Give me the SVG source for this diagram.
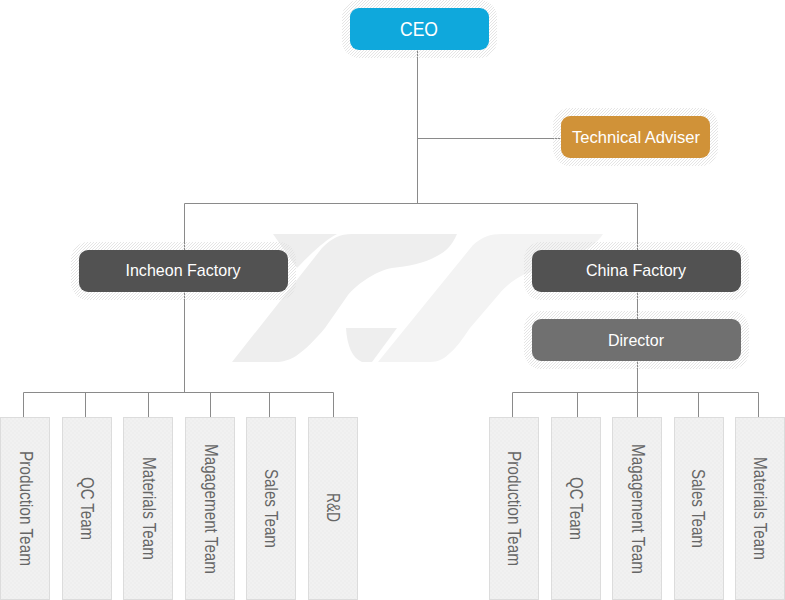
<svg xmlns="http://www.w3.org/2000/svg" width="785" height="600" viewBox="0 0 785 600">
<style>
.halo{fill:url(#hatch)}
.t{font-family:"Liberation Sans",Arial,sans-serif;font-size:17px;fill:#fff;text-anchor:middle}
.v{font-family:"Liberation Sans",Arial,sans-serif;font-size:17.5px;fill:#666}
.team{fill:url(#dots);stroke:#dcdcdc;stroke-width:1}
.c{fill:none;stroke:#8a8a8a;stroke-width:1}
.l1{fill:#eeeeee}.l2{fill:#f3f3f3}
</style>
<defs>
<pattern id="hatch" width="3" height="3" patternUnits="userSpaceOnUse">
<path d="M0 3L3 0M-1 1L1 -1M2 4L4 2" stroke="#dedede" stroke-width="0.8" fill="none"/>
</pattern>
<pattern id="dots" width="4" height="4" patternUnits="userSpaceOnUse">
<rect width="4" height="4" fill="#f1f1f1"/>
<rect width="2" height="2" fill="#eeeeee"/>
<rect x="2" y="2" width="2" height="2" fill="#eeeeee"/>
</pattern>
</defs>
<g id="logo">
<path class="l1" d="M273 234H337C326 240 314 250 297 268Z"/>
<path class="l1" d="M232 362L322 248C332 238 340 234 352 234H457C452 245 447 251 437 256C423 264 408 266 392 268C378 270 358 283 348 295L325 328C315 340 305 350 296 356C289 360 283 362 275 362Z"/>
<path class="l1" d="M346 328H397L372 362H362C352 358 347 345 346 328Z"/>
<path class="l2" d="M378 362L473 245C482 237 490 234 502 234H603C592 252 560 262 523 275C513 280 505 287 500 293L470 328C462 340 456 348 450 353C444 359 438 362 430 362Z"/>
</g>
<g id="connectors">
<path class="c" d="M417.500 50V203.500M417.500 138.500H561M184.500 203.500H637.500M184.500 203.500V392.500M637.500 203.500V417M23.500 392.500H333.500M23.500 392.500V417M85.500 392.500V417M148.500 392.500V417M210.500 392.500V417M269.500 392.500V417M333.500 392.500V417M512.500 392.500H758.500M512.500 392.500V417M577.500 392.500V417M698.500 392.500V417M758.500 392.500V417"/>
</g>
<g id="ceo"><rect class="halo" x="342" y="0" width="155" height="58" rx="17"/><rect x="350" y="8" width="139" height="42" rx="9" fill="#0fa8dc"/><text class="t" x="419" y="36" textLength="38" lengthAdjust="spacingAndGlyphs" style="font-size:21px">CEO</text></g>
<g id="adviser"><rect class="halo" x="553" y="108" width="165" height="58" rx="17"/><rect x="561" y="116" width="149" height="42" rx="9" fill="#d09238"/><text class="t" x="636" y="143" textLength="128" lengthAdjust="spacingAndGlyphs">Technical Adviser</text></g>
<g id="incheon"><rect class="halo" x="71" y="242" width="225" height="58" rx="17"/><rect x="79" y="250" width="209" height="42" rx="9" fill="#525252"/><text class="t" x="183" y="276" textLength="115" lengthAdjust="spacingAndGlyphs">Incheon Factory</text></g>
<g id="china"><rect class="halo" x="524" y="242" width="225" height="58" rx="17"/><rect x="532" y="250" width="209" height="42" rx="9" fill="#525252"/><text class="t" x="636" y="276" textLength="100" lengthAdjust="spacingAndGlyphs">China Factory</text></g>
<g id="director"><rect class="halo" x="524" y="311" width="225" height="58" rx="17"/><rect x="532" y="319" width="209" height="42" rx="9" fill="#707070"/><text class="t" x="636" y="346" textLength="56" lengthAdjust="spacingAndGlyphs">Director</text></g>
<g id="l-production"><rect class="team" x="0.500" y="417.500" width="49" height="182"/><text class="v" transform="translate(19.500 451) rotate(90)" textLength="115" lengthAdjust="spacingAndGlyphs">Production Team</text></g>
<g id="l-qc"><rect class="team" x="62.500" y="417.500" width="49" height="182"/><text class="v" transform="translate(81 477) rotate(90)" textLength="63" lengthAdjust="spacingAndGlyphs">QC Team</text></g>
<g id="l-materials"><rect class="team" x="123.500" y="417.500" width="49" height="182"/><text class="v" transform="translate(143 457) rotate(90)" textLength="103" lengthAdjust="spacingAndGlyphs">Materials Team</text></g>
<g id="l-management"><rect class="team" x="185.500" y="417.500" width="49" height="182"/><text class="v" transform="translate(205 444) rotate(90)" textLength="130" lengthAdjust="spacingAndGlyphs">Magagement Team</text></g>
<g id="l-sales"><rect class="team" x="246.500" y="417.500" width="49" height="182"/><text class="v" transform="translate(265 469) rotate(90)" textLength="79" lengthAdjust="spacingAndGlyphs">Sales Team</text></g>
<g id="l-rd"><rect class="team" x="308.500" y="417.500" width="49" height="182"/><text class="v" transform="translate(327 493) rotate(90)" textLength="29" lengthAdjust="spacingAndGlyphs">R&amp;D</text></g>
<g id="r-production"><rect class="team" x="489.500" y="417.500" width="49" height="182"/><text class="v" transform="translate(508 451) rotate(90)" textLength="115" lengthAdjust="spacingAndGlyphs">Production Team</text></g>
<g id="r-qc"><rect class="team" x="551.500" y="417.500" width="49" height="182"/><text class="v" transform="translate(570 477) rotate(90)" textLength="63" lengthAdjust="spacingAndGlyphs">QC Team</text></g>
<g id="r-management"><rect class="team" x="612.500" y="417.500" width="49" height="182"/><text class="v" transform="translate(632 444) rotate(90)" textLength="130" lengthAdjust="spacingAndGlyphs">Magagement Team</text></g>
<g id="r-sales"><rect class="team" x="674.500" y="417.500" width="49" height="182"/><text class="v" transform="translate(692 469) rotate(90)" textLength="79" lengthAdjust="spacingAndGlyphs">Sales Team</text></g>
<g id="r-materials"><rect class="team" x="735.500" y="417.500" width="49" height="182"/><text class="v" transform="translate(754 457) rotate(90)" textLength="103" lengthAdjust="spacingAndGlyphs">Materials Team</text></g>
</svg>
